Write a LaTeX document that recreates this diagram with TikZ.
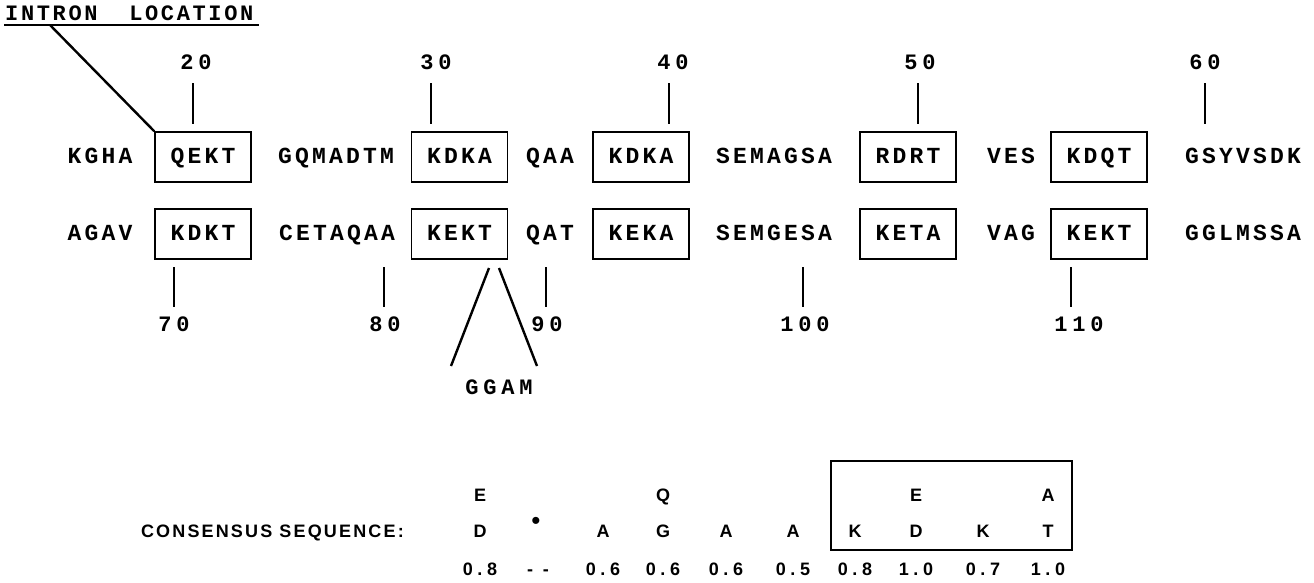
\documentclass[tikz,border=0pt]{standalone}
\usepackage{fontspec}
\newfontfamily\seqfont[LetterSpace=14]{Liberation Mono}
\newfontfamily\numfont[LetterSpace=22]{Liberation Mono}
\newfontfamily\titlefont[LetterSpace=12]{Liberation Mono}
\newfontfamily\consfont[LetterSpace=12]{Liberation Sans}
\newfontfamily\consnumfont[LetterSpace=26]{Liberation Sans}
\begin{document}
\begin{tikzpicture}[x=1pt,y=-1pt,
  seq/.style={font=\seqfont\bfseries\fontsize{23}{26}\selectfont, inner sep=0pt, text height=13pt, text depth=0pt},
  num/.style={font=\numfont\bfseries\fontsize{22}{26}\selectfont, inner sep=0pt, text height=13pt, text depth=0pt},
  seqbox/.style={seq, draw, line width=1.5pt, minimum width=96pt, minimum height=50pt},
  tick/.style={line width=1.5pt},
  intron/.style={line width=2.4pt},
  cons/.style={font=\consfont\bfseries\fontsize{18}{20}\selectfont, inner sep=0pt, text height=13pt, text depth=0pt},
  consnum/.style={font=\consnumfont\bfseries\fontsize{18}{20}\selectfont, inner sep=0pt, text height=13pt, text depth=0pt},
  consbox/.style={draw, line width=1.5pt}
]
\useasboundingbox (0,0) rectangle (1314,582);

% title
\node[seq, anchor=west, font=\titlefont\bfseries\fontsize{22}{24}\selectfont] (title) at (5,14) {INTRON\ \ LOCATION};
\coordinate (ul1) at (4,25);
\coordinate (ul2) at (259,25);
\draw[line width=1.5pt] (ul1) -- (ul2);
\coordinate (intronstart) at (50,25);

% row 1
\node[seq] (r1a) at (100,157) {KGHA};
\node[seqbox] (b1) at (203,157) {QEKT};
\node[seq] (r1b) at (336,157) {GQMADTM};
\node[seqbox] (b2) at (459.5,157) {KDKA};
\node[seq] (r1c) at (550,157) {QAA};
\node[seqbox] (b3) at (641,157) {KDKA};
\node[seq] (r1d) at (774,157) {SEMAGSA};
\node[seqbox] (b4) at (908,157) {RDRT};
\node[seq] (r1e) at (1011,157) {VES};
\node[seqbox] (b5) at (1099,157) {KDQT};
\node[seq] (r1f) at (1243,157) {GSYVSDK};

% row 2
\node[seq] (r2a) at (100,234) {AGAV};
\node[seqbox] (c1) at (203,234) {KDKT};
\node[seq] (r2b) at (337,234) {CETAQAA};
\node[seqbox] (c2) at (459.5,234) {KEKT};
\node[seq] (r2c) at (550,234) {QAT};
\node[seqbox] (c3) at (641,234) {KEKA};
\node[seq] (r2d) at (774,234) {SEMGESA};
\node[seqbox] (c4) at (908,234) {KETA};
\node[seq] (r2e) at (1011,234) {VAG};
\node[seqbox] (c5) at (1099,234) {KEKT};
\node[seq] (r2f) at (1243,234) {GGLMSSA};

% intron line
\draw[intron] (intronstart) -- (b1.north west);

% row 1 numbers and ticks
\node[num] (n20) at (196,63) {20};
\node[num] (n30) at (436,63) {30};
\node[num] (n40) at (673,63) {40};
\node[num] (n50) at (920,63) {50};
\node[num] (n60) at (1205,63) {60};
\foreach \x/\n in {193/20,431/30,669/40,918/50,1205/60}{
  \coordinate (ta\n) at (\x,83);
  \coordinate (tb\n) at (\x,124);
  \draw[tick] (ta\n) -- (tb\n);
}

% row 2 numbers and ticks
\node[num] (n70) at (174,325) {70};
\node[num] (n80) at (385,325) {80};
\node[num] (n90) at (547,325) {90};
\node[num] (n100) at (805,325) {100};
\node[num] (n110) at (1079,325) {110};
\foreach \x/\n in {174/70,384/80,546/90,803/100,1071/110}{
  \coordinate (ta\n) at (\x,267);
  \coordinate (tb\n) at (\x,307);
  \draw[tick] (ta\n) -- (tb\n);
}

% GGAM insertion
\node[num] (ggam) at (499,388) {GGAM};
\coordinate (g1a) at (489,268);
\coordinate (g1b) at (451,366);
\coordinate (g2a) at (499,268);
\coordinate (g2b) at (537,366);
\draw[intron] (g1a) -- (g1b);
\draw[intron] (g2a) -- (g2b);

% consensus
\node[cons, anchor=east] (clabel) at (404,531) {CONSENSUS SEQUENCE:};
\node[cons] (t1) at (480,495) {E};
\node[cons] (t4) at (663,495) {Q};
\node[cons] (t8) at (916,495) {E};
\node[cons] (t10) at (1048,495) {A};
\node[cons] (m1) at (480,531) {D};
\node[cons, font=\consfont\fontsize{26}{28}\selectfont] (m2) at (536,523) {•};
\node[cons] (m3) at (603,531) {A};
\node[cons] (m4) at (663,531) {G};
\node[cons] (m5) at (726,531) {A};
\node[cons] (m6) at (793,531) {A};
\node[cons] (m7) at (855,531) {K};
\node[cons] (m8) at (916,531) {D};
\node[cons] (m9) at (983,531) {K};
\node[cons] (m10) at (1048,531) {T};
\node[consnum] (s1) at (480,569) {0.8};
\node[consnum] (s2) at (538,569) {-\ -};
\node[consnum] (s3) at (603,569) {0.6};
\node[consnum] (s4) at (663,569) {0.6};
\node[consnum] (s5) at (726,569) {0.6};
\node[consnum] (s6) at (793,569) {0.5};
\node[consnum] (s7) at (855,569) {0.8};
\node[consnum] (s8) at (916,569) {1.0};
\node[consnum] (s9) at (983,569) {0.7};
\node[consnum] (s10) at (1048,569) {1.0};
\draw[consbox] (831,461) rectangle (1072,550);
\end{tikzpicture}
\end{document}
